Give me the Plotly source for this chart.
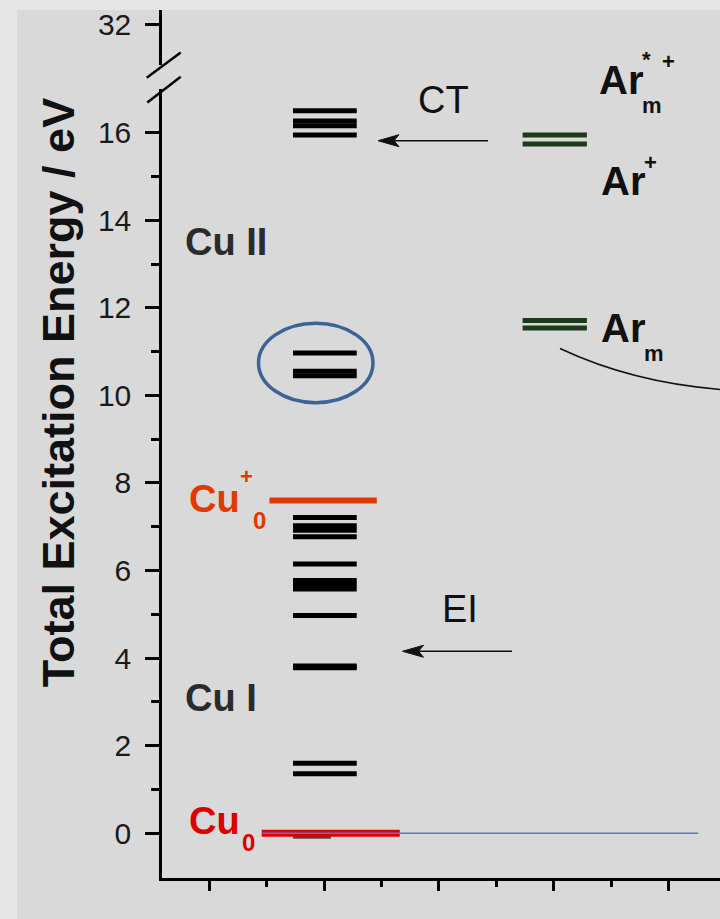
import plotly.graph_objects as go

# ---------------- data (energies in eV) ----------------
cu1_levels = [1.36, 1.60, 3.78, 3.82, 4.97, 5.58, 5.68, 5.77, 6.15, 6.77, 6.92, 7.02, 7.21]
cu2_levels = [10.45, 10.55, 10.97, 15.95, 16.16, 16.27, 16.50]
cu_ion_level = [7.60]
cu_ground_level = [0.0]
ar_levels = [11.54, 11.71, 15.74, 15.95]
y_ticks_lower = [0, 2, 4, 6, 8, 10, 12, 14, 16]
y_ticks_upper = [32]

# x extents of level groups (arbitrary x units)
cu_x = [1.46, 2.57]
cu_ion_x = [1.05, 2.92]
cu_ground_x = [0.915, 3.32]
ground_hidden_x = [1.46, 2.12]
baseline_x = [0.915, 8.52]
ar_x = [5.46, 6.58]

W, H = 720, 919
FONT = "Arial, Liberation Sans, sans-serif"

# pixel -> data / paper helpers (layout only)
def X(px):
    return (px - 209.2) / 57.4

def Y(py):
    return (833 - py) / 43.875

def PX(px):
    return px / W

def PY(py):
    return 1 - py / H


def seg_trace(levels, xs, color, width, yshift=0.0):
    xx, yy = [], []
    for v in levels:
        xx += [xs[0], xs[1], None]
        yy += [v + yshift, v + yshift, None]
    return go.Scatter(x=xx, y=yy, mode="lines", line=dict(color=color, width=width),
                      hoverinfo="skip", showlegend=False, xaxis="x", yaxis="y")


fig = go.Figure()
fig.add_trace(seg_trace(cu_ground_level, ground_hidden_x, "#4a4a4a", 5, yshift=-0.07))
fig.add_trace(seg_trace(cu_ground_level, cu_ground_x, "#e00000", 7))
fig.add_trace(seg_trace(cu_ground_level, baseline_x, "#4f7ec4", 1.6))
fig.add_trace(seg_trace(cu1_levels, cu_x, "#000000", 5))
fig.add_trace(seg_trace(cu2_levels, cu_x, "#000000", 5))
fig.add_trace(seg_trace(cu_ion_level, cu_ion_x, "#e03a00", 6))
fig.add_trace(seg_trace(ar_levels, ar_x, "#1a3a1a", 5))
# dummy trace to create the upper (broken) axis segment
fig.add_trace(go.Scatter(x=[None], y=[None], xaxis="x", yaxis="y2", showlegend=False))

# axis geometry
y_bot_px, y_top_px = 878, 87
up_bot_px, up_top_px = 63.5, 8
x_left_px = 162

tickfont = dict(family=FONT, size=30, color="#1a1a1a")

fig.update_layout(
    width=W, height=H,
    margin=dict(l=0, r=0, t=0, b=0),
    paper_bgcolor="#e6e6e6",
    plot_bgcolor="rgba(0,0,0,0)",
    showlegend=False,
    xaxis=dict(
        domain=[PX(x_left_px), 1], range=[X(x_left_px), X(720)],
        showgrid=False, zeroline=False, showline=True, linecolor="black", linewidth=2.5,
        ticks="outside", ticklen=10, tickwidth=2.5, tickcolor="black",
        tick0=0, dtick=2, showticklabels=False, anchor="y",
        minor=dict(ticks="outside", ticklen=6, tickwidth=2.5, tickcolor="black", dtick=1, tick0=0, showgrid=False),
    ),
    yaxis=dict(
        domain=[PY(y_bot_px), PY(y_top_px)], range=[Y(y_bot_px), Y(y_top_px)],
        showgrid=False, zeroline=False, showline=True, linecolor="black", linewidth=2.5,
        ticks="outside", ticklen=14, tickwidth=2.5, tickcolor="black",
        tickmode="array", tickvals=y_ticks_lower, ticktext=[str(v) for v in y_ticks_lower],
        tickfont=tickfont, ticklabelstandoff=8, anchor="x",
        minor=dict(ticks="outside", ticklen=8, tickwidth=2.5, tickcolor="black",
                   tickvals=[v + 1 for v in y_ticks_lower[:-1]], showgrid=False),
    ),
    yaxis2=dict(
        domain=[PY(up_bot_px), PY(up_top_px)],
        range=[32 - (up_bot_px - 22.7) / 43.875, 32 + (22.7 - up_top_px) / 43.875],
        showgrid=False, zeroline=False, showline=True, linecolor="black", linewidth=2.5,
        ticks="outside", ticklen=14, tickwidth=2.5, tickcolor="black",
        tickmode="array", tickvals=y_ticks_upper, ticktext=[str(v) for v in y_ticks_upper],
        tickfont=tickfont, ticklabelstandoff=8, anchor="x",
    ),
)

shapes = []
# gray panel background
shapes.append(dict(type="rect", xref="paper", yref="paper", x0=PX(17), x1=1, y0=0, y1=PY(8),
                   fillcolor="#d9d9d9", line=dict(width=0), layer="below"))
# axis break slashes
for (a, b, c, d) in [(146.7, 76, 180.7, 50.7), (147.3, 100.7, 180.7, 75)]:
    shapes.append(dict(type="line", xref="paper", yref="paper", x0=PX(a), y0=PY(b), x1=PX(c), y1=PY(d),
                       line=dict(color="black", width=2.5)))
# ellipse around Cu II levels
shapes.append(dict(type="circle", xref="x", yref="y", x0=X(258.5), x1=X(373), y0=Y(401.5), y1=Y(322),
                   line=dict(color="#3c6496", width=3.5)))
# curve from Ar_m
shapes.append(dict(type="path", xref="x", yref="y",
                   path=f"M {X(560)},{Y(347.3)} Q {X(640)},{Y(385)} {X(740)},{Y(389.5)}",
                   line=dict(color="#111111", width=1.5)))
# arrows (CT and EI)
for (tail, tip, yy) in [(488, 378, 139), (512, 402.5, 650.7)]:
    shapes.append(dict(type="line", xref="x", yref="y", x0=X(tail), x1=X(tip + 10), y0=Y(yy), y1=Y(yy),
                       line=dict(color="#111111", width=1.5)))
    shapes.append(dict(type="path", xref="x", yref="y",
                       path=(f"M {X(tip)},{Y(yy)} L {X(tip + 21)},{Y(yy - 6)} L {X(tip + 16)},{Y(yy)} "
                             f"L {X(tip + 21)},{Y(yy + 6)} Z"),
                       fillcolor="#111111", line=dict(color="#111111", width=1)))
fig.update_layout(shapes=shapes)

ann = []

def txt(s, px, py, size, color="#111111", bold=True, xanchor="left", yanchor="middle", angle=0):
    t = f"<b>{s}</b>" if bold else s
    ann.append(dict(text=t, x=PX(px), y=PY(py), xref="paper", yref="paper", showarrow=False,
                    xanchor=xanchor, yanchor=yanchor, textangle=angle,
                    font=dict(family=FONT, size=size, color=color)))

txt("Total Excitation Energy / eV", 58, 392, 45, color="#111111", xanchor="center", angle=-90)
txt("Cu II", 183, 241, 38, color="#2b2b2b")
txt("Cu I", 183, 698, 38, color="#2b2b2b")
# Cu+_0
txt("Cu", 187, 498, 38, color="#e03a00")
txt("+", 246, 476, 22, color="#e03a00", xanchor="center")
txt("0", 259, 520, 24, color="#e03a00", xanchor="center")
# Cu_0
txt("Cu", 187, 821, 38, color="#dd0000")
txt("0", 248, 842, 24, color="#dd0000", xanchor="center")
# Ar*+_m
txt("Ar", 597, 78, 40)
txt("*", 646, 58, 22, xanchor="center")
txt("+", 668, 60, 22, xanchor="center")
txt("m", 652, 104, 22, xanchor="center")
# Ar+
txt("Ar", 599, 179, 40)
txt("+", 650, 161, 22, xanchor="center")
# Ar_m
txt("Ar", 599, 327, 40)
txt("m", 654, 352, 22, xanchor="center")
# process labels
txt("CT", 443, 98, 38, bold=False, xanchor="center")
txt("EI", 460, 608, 38, bold=False, xanchor="center")

fig.update_layout(annotations=ann)
fig.write_html("out.html")
